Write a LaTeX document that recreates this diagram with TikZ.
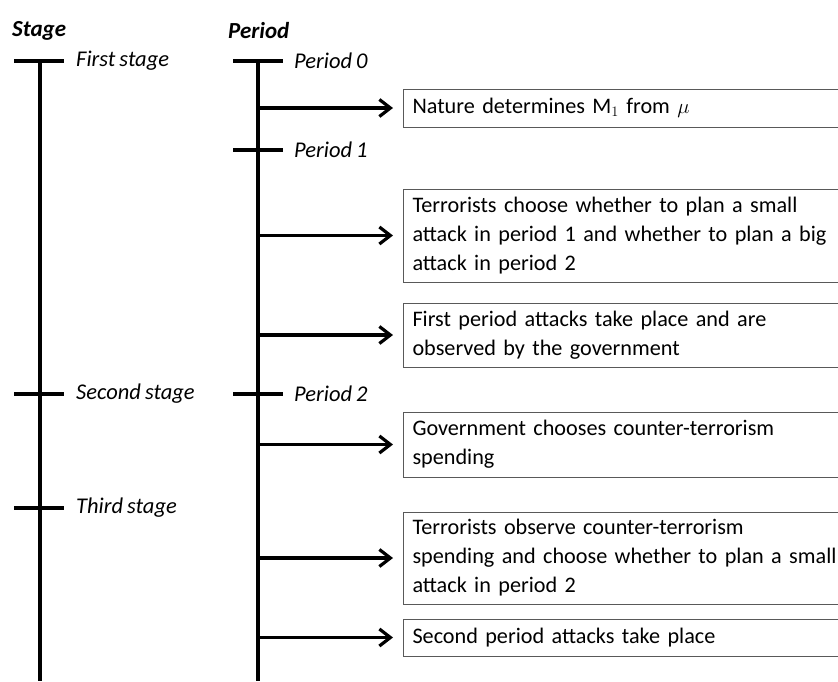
\documentclass[tikz,border=0pt]{standalone}
\usepackage{amsmath}
\usepackage{fontspec}
\setmainfont{Carlito}[WordSpace=0.8]
\usetikzlibrary{arrows.meta}

\begin{document}
\begin{tikzpicture}[x=1pt, y=-1pt, >={Straight Barb[length=11pt,width=17pt]}]
		\tikzstyle{axis} = [line width=3.2pt]
		\tikzstyle{tick} = [line width=3.2pt]
		\tikzstyle{lbl} = [anchor=west, inner sep=0pt, font=\fontsize{22.5}{26}\selectfont\itshape]
		\tikzstyle{head} = [anchor=west, inner sep=0pt, font=\fontsize{23}{26}\selectfont\bfseries\itshape]
		\tikzstyle{event} = [draw=black!65, line width=1pt, anchor=west, align=left, text width=445pt, inner xsep=9pt, inner ysep=0pt, font=\fontsize{22.2}{29}\selectfont]
		\tikzstyle{arr} = [->, line width=3.2pt, shorten >=10pt]

		\useasboundingbox (0,0) rectangle (838,681);

		% headers
		\node[head] (stagehd) at (12,31) {Stage};
		\node[head] (periodhd) at (228,31) {Period};

		% time lines
		\coordinate (s0) at (40,61);
		\coordinate (sN) at (40,681);
		\coordinate (p0) at (258,61);
		\coordinate (pN) at (258,681);
		\draw[axis] (s0) -- (sN);
		\draw[axis] (p0) -- (pN);

		% stages
		\foreach \y/\name/\txt in {61/st1/First stage, 394/st2/Second stage, 508/st3/Third stage}{
			\draw[tick] (14,\y) -- (64,\y);
			\node[lbl] (\name) at (76,\y) {\txt};
		}

		% periods
		\foreach \y/\name/\txt in {61/pe0/Period 0, 150/pe1/Period 1, 394/pe2/Period 2}{
			\draw[tick] (233,\y) -- (283,\y);
			\node[lbl] (\name) at (294,\y) {\txt};
		}

		% events (right edges run off the page)
		\node[event, minimum height=38pt] (b1) at (403,108) {Nature determines $\mathrm{M}_1$ from $\mu$};
		\node[event, minimum height=93pt] (b2) at (403,235.5) {Terrorists choose whether to plan a small\\attack in period 1 and whether to plan a big\\attack in period 2};
		\node[event, minimum height=64pt] (b3) at (403,335) {First period attacks take place and are\\observed by the government};
		\node[event, minimum height=65pt] (b4) at (403,444.5) {Government chooses counter-terrorism\\spending};
		\node[event, minimum height=92pt] (b5) at (403,558) {Terrorists observe counter-terrorism\\spending and choose whether to plan a small\\attack in period 2};
		\node[event, minimum height=37pt] (b6) at (403,637.5) {Second period attacks take place};

		\foreach \b in {b1,b2,b3,b4,b5,b6}
			\draw[arr] (p0 |- \b.west) -- (\b.west);

		\end{tikzpicture}
\end{document}
